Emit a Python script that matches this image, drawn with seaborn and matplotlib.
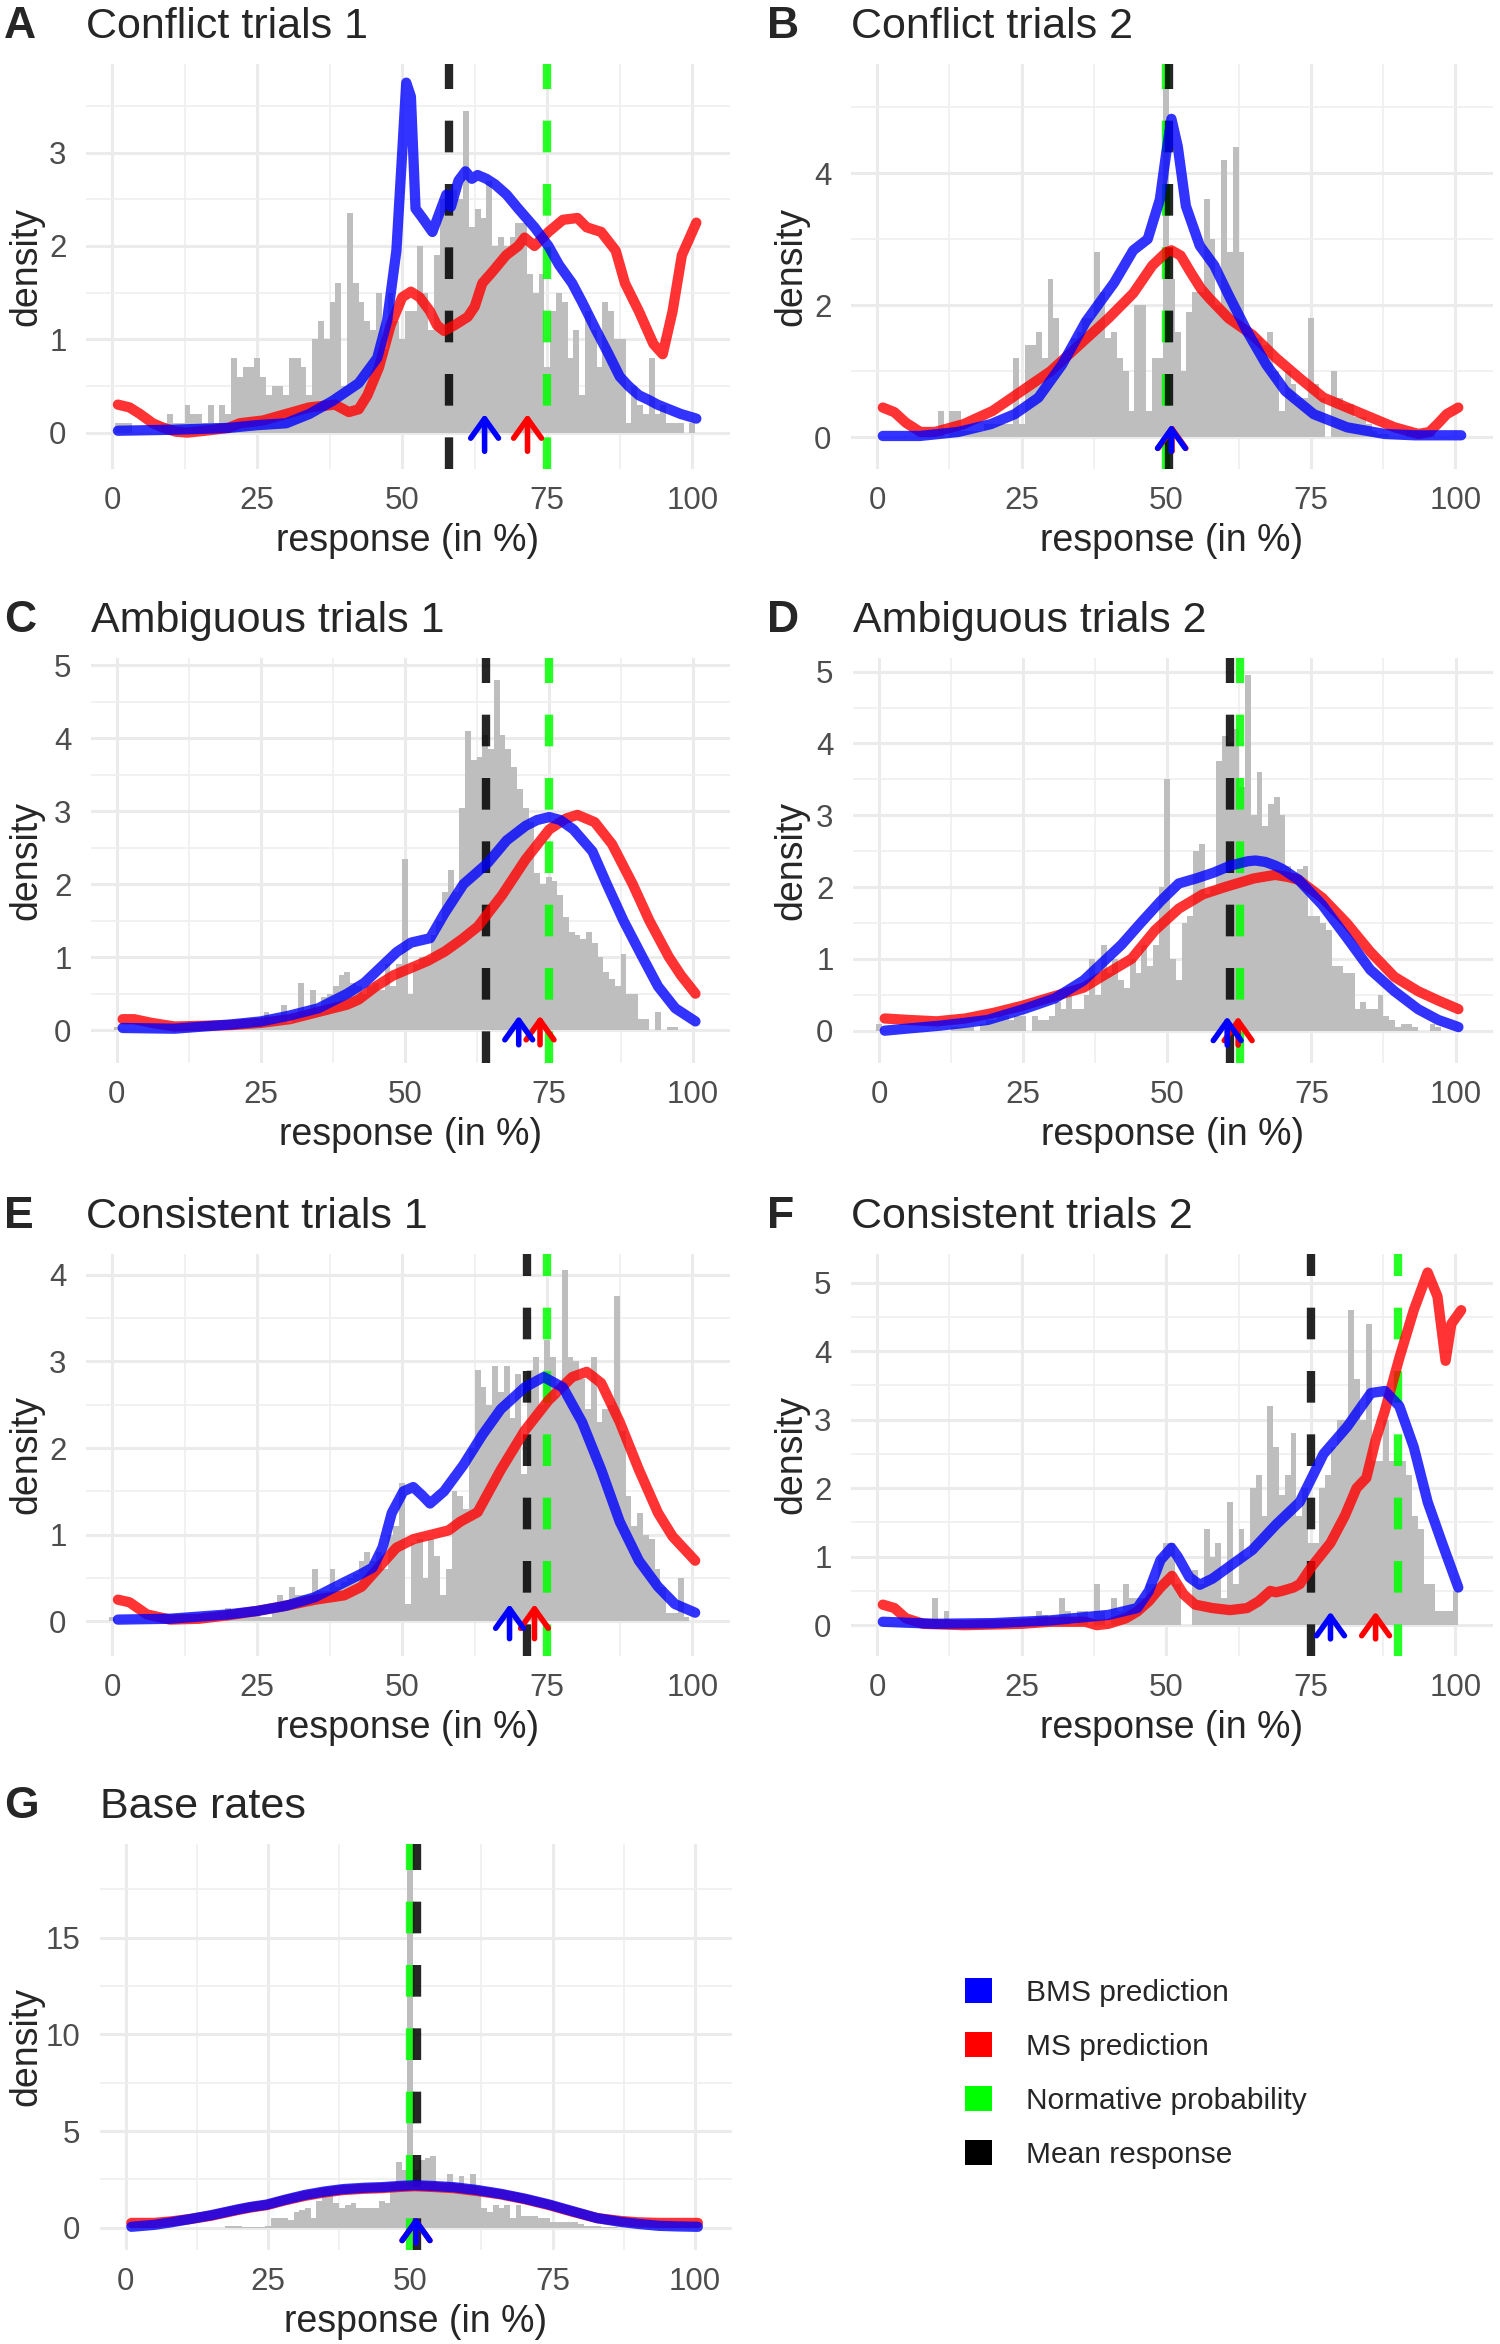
import numpy as np
import matplotlib
matplotlib.use("Agg")
import matplotlib.pyplot as plt
import seaborn as sns
from matplotlib.patches import Patch
from matplotlib.ticker import MultipleLocator

sns.set_theme(style="white")
plt.rcParams['font.family'] = ['Liberation Sans', 'DejaVu Sans']

# ---------------- data ----------------
bin_centers = list(range(0, 101))

hist_A = [0,
    0.1, 0.1, 0.1, 0, 0, 0, 0, 0, 0.1, 0.2,
    0.1, 0.1, 0.3, 0.2, 0.2, 0.1, 0.3, 0.1, 0.3, 0.2,
    0.8, 0.6, 0.7, 0.7, 0.8, 0.6, 0.4, 0.5, 0.5, 0.4,
    0.8, 0.8, 0.7, 0.4, 1.0, 1.2, 1.0, 1.4, 1.6, 0.5,
    2.35, 1.6, 1.4, 1.2, 1.1, 1.5, 0.9, 1.5, 1.2, 1.0,
    1.3, 1.3, 2.0, 1.5, 1.1, 1.9, 2.5, 2.4, 2.6, 2.5,
    3.45, 2.2, 2.4, 2.3, 2.7, 2.0, 2.1, 2.0, 2.1, 2.25,
    2.25, 1.7, 1.5, 1.7, 0.7, 1.3, 1.5, 1.4, 0.8, 1.1,
    0.4, 1.3, 1.1, 0.7, 1.4, 1.3, 1.0, 1.0, 0.1, 0.5,
    0.3, 0.2, 0.8, 0.2, 0.3, 0.1, 0.1, 0.1, 0, 0.1]
hist_B = [0,
    0, 0, 0, 0, 0, 0, 0, 0, 0, 0,
    0.4, 0, 0.4, 0.4, 0.1, 0.1, 0.1, 0.1, 0.2, 0.2,
    0.2, 0.2, 0.2, 1.2, 0.2, 1.4, 1.4, 1.6, 1.2, 2.4,
    1.8, 1.2, 1.3, 1.5, 1.6, 1.8, 1.8, 2.8, 2.2, 1.5,
    1.6, 1.2, 1.0, 0.4, 2.0, 2.0, 0.4, 1.2, 1.2, 5.3,
    2.4, 1.6, 1.0, 1.9, 2.2, 2.2, 3.6, 3.0, 2.0, 4.2,
    2.8, 4.4, 2.8, 1.6, 1.5, 1.5, 1.4, 1.6, 1.0, 0.4,
    1.0, 0.8, 0.6, 0.6, 1.8, 0.8, 0.6, 0.0, 1.0, 0.6,
    0.5, 0.5, 0.3, 0.3, 0.2, 0.1, 0.05, 0.05, 0, 0,
    0, 0.1, 0.1, 0.1, 0.1, 0.1, 0, 0, 0, 0]
hist_C = [0.05,
    0, 0, 0, 0, 0, 0, 0, 0, 0, 0,
    0, 0, 0, 0, 0, 0, 0, 0, 0, 0.05,
    0.05, 0.05, 0.05, 0.1, 0.1, 0.25, 0.1, 0.1, 0.35, 0.1,
    0.2, 0.65, 0.25, 0.55, 0.25, 0.45, 0.5, 0.6, 0.75, 0.8,
    0.65, 0.6, 0.5, 0.6, 0.65, 0.55, 0.9, 0.6, 0.9, 2.35,
    0.5, 0.9, 1.0, 1.0, 1.3, 1.5, 1.9, 2.2, 1.9, 3.05,
    4.1, 3.7, 3.75, 4.05, 3.85, 4.8, 4.05, 3.85, 3.6, 3.3,
    3.05, 2.85, 2.15, 2.0, 2.1, 2.05, 1.85, 1.55, 1.35, 1.3,
    1.25, 1.35, 1.2, 1.0, 0.8, 0.7, 0.6, 1.05, 0.5, 0.5,
    0.15, 0.15, 0, 0.25, 0, 0.05, 0.05, 0, 0, 0]
hist_D = [0.1,
    0, 0, 0, 0, 0, 0, 0, 0, 0, 0,
    0, 0, 0.05, 0.05, 0.05, 0.05, 0, 0.1, 0.15, 0.15,
    0.2, 0.2, 0.15, 0.2, 0.2, 0, 0.2, 0.15, 0.15, 0.2,
    0.4, 0.3, 0.5, 0.3, 0.3, 0.5, 1.0, 0.5, 1.2, 0.8,
    1.0, 0.7, 0.6, 1.0, 0.8, 1.2, 0.9, 1.2, 2.0, 3.5,
    1.0, 0.7, 1.5, 1.6, 2.5, 2.6, 1.9, 2.0, 3.75, 4.1,
    4.0, 4.2, 3.4, 4.95, 3.0, 3.6, 2.85, 3.15, 3.25, 3.0,
    2.3, 2.2, 2.25, 2.3, 1.6, 1.6, 1.5, 1.4, 0.9, 0.9,
    0.8, 0.8, 0.3, 0.4, 0.3, 0.3, 0.5, 0.2, 0.15, 0.05,
    0.1, 0.1, 0.05, 0, 0, 0.1, 0.05, 0, 0, 0]
hist_E = [0.05,
    0, 0, 0, 0, 0, 0, 0, 0, 0, 0,
    0, 0, 0, 0, 0, 0, 0, 0, 0, 0.15,
    0.1, 0.05, 0.05, 0.1, 0.1, 0.05, 0.05, 0.1, 0.3, 0.25,
    0.4, 0.3, 0.3, 0.3, 0.6, 0.35, 0.35, 0.6, 0.4, 0.45,
    0.5, 0.55, 0.7, 0.8, 0.7, 0.8, 0.6, 1.0, 1.1, 1.6,
    0.2, 0.9, 0.95, 0.5, 0.95, 0.75, 0.3, 0.6, 1.5, 1.45,
    1.3, 2.0, 2.9, 2.7, 2.5, 2.95, 2.65, 2.95, 2.35, 2.85,
    1.7, 2.9, 3.05, 2.5, 3.25, 3.05, 2.6, 4.05, 3.05, 3.0,
    2.8, 2.45, 3.05, 2.3, 2.45, 2.5, 3.75, 2.2, 1.45, 1.1,
    1.25, 1.0, 0.95, 0.6, 0.4, 0.1, 0.1, 0.5, 0.05, 0]
hist_F = [0,
    0, 0, 0, 0, 0, 0, 0, 0, 0, 0.4,
    0, 0.2, 0, 0, 0, 0, 0, 0, 0, 0,
    0, 0, 0, 0, 0, 0, 0, 0.2, 0.15, 0,
    0, 0.4, 0.2, 0, 0.2, 0.2, 0, 0.6, 0.2, 0,
    0.4, 0.2, 0.6, 0.4, 0.4, 0.4, 0.6, 0.6, 1.0, 1.2,
    1.2, 0.6, 0, 0, 0.8, 0.6, 1.4, 1.0, 1.2, 0.4,
    1.8, 0.6, 1.4, 1.0, 2.0, 2.2, 1.6, 3.2, 2.6, 1.9,
    2.2, 2.8, 1.6, 2.0, 1.2, 1.2, 2.0, 2.2, 2.6, 3.0,
    3.0, 4.6, 3.6, 3.0, 4.4, 2.4, 2.4, 3.0, 2.4, 2.4,
    2.4, 2.2, 1.6, 1.4, 0.6, 0.6, 0.2, 0.2, 0.2, 0.5]
hist_G = [0,
    0, 0, 0, 0, 0, 0, 0, 0, 0, 0,
    0, 0, 0, 0, 0, 0, 0, 0.1, 0.1, 0.1,
    0.05, 0.05, 0.05, 0.05, 0.1, 0.5, 0.5, 0.5, 0.4, 0.8,
    0.9, 1.0, 0.5, 1.4, 2.0, 1.8, 1.3, 1.0, 1.2, 1.3,
    1.0, 1.0, 1.0, 1.0, 1.4, 1.3, 2.3, 3.4, 3.0, 19.8,
    3.0, 3.5, 3.6, 3.7, 2.1, 2.3, 2.8, 2.2, 2.7, 2.0,
    2.8, 1.9, 1.0, 0.8, 1.2, 1.0, 1.2, 0.5, 1.2, 0.6,
    0.6, 0.6, 0.5, 0.5, 0.3, 0.3, 0.3, 0.3, 0.3, 0.2,
    0.1, 0.1, 0.1, 0.05, 0.05, 0.05, 0, 0, 0, 0,
    0, 0, 0, 0, 0, 0, 0, 0, 0, 0]

# BMS (blue) and MS (red) prediction densities
bms_x_A = [1, 10, 20, 25, 30, 34, 38, 42.5, 45.7, 47.4, 49, 50, 50.7, 51.5, 52.3, 53.5, 55.2, 56.4, 57.6, 58.4,
           59.7, 60.9, 62, 63, 64.5, 66, 68, 70, 72.8, 75.2, 77, 79.3, 81, 83.4, 85.5, 87.5, 89, 90.8, 92.5, 94,
           96, 98, 100.7]
bms_y_A = [0.02, 0.03, 0.05, 0.08, 0.1, 0.2, 0.34, 0.53, 0.8, 1.2, 1.95, 3.0, 3.75, 3.6, 2.4, 2.3, 2.15, 2.35, 2.55, 2.42,
           2.7, 2.8, 2.72, 2.76, 2.72, 2.66, 2.55, 2.4, 2.2, 2.0, 1.8, 1.6, 1.4, 1.1, 0.85, 0.6, 0.5, 0.4, 0.35, 0.3,
           0.25, 0.2, 0.15]
ms_x_A = [1, 3, 4.8, 7, 8.9, 11, 13, 16, 20, 22, 26, 30, 34, 38.4, 40.8, 42.5, 44, 46, 48, 50, 51.5, 53, 54.8, 56,
          57.2, 59, 61.3, 62.5, 63.8, 65.5, 67.9, 70, 71.1, 72.8, 75.2, 77.7, 80.2, 81.8, 84.3, 86.8, 88.4, 90.8,
          93.3, 94.9, 96.6, 98.2, 100.7]
ms_y_A = [0.3, 0.27, 0.2, 0.1, 0.05, 0.01, 0.0, 0.02, 0.05, 0.1, 0.13, 0.2, 0.27, 0.3, 0.22, 0.25, 0.4, 0.7, 1.15,
          1.45, 1.51, 1.45, 1.3, 1.15, 1.09, 1.15, 1.24, 1.35, 1.6, 1.72, 1.9, 2.0, 2.09, 2.0, 2.15, 2.28, 2.3, 2.2,
          2.15, 1.95, 1.6, 1.3, 0.95, 0.84, 1.3, 1.9, 2.25]

bms_x_B = [1, 7.4, 14, 19.7, 23.8, 27.9, 32, 36.1, 41, 44.3, 46.8, 48.9, 50, 50.9, 52, 53.4, 55.8, 58.3, 60.8, 64,
           67.3, 70.6, 75.5, 81.3, 87.8, 93, 101]
bms_y_B = [0.02, 0.02, 0.08, 0.2, 0.35, 0.6, 1.1, 1.75, 2.34, 2.83, 3.0, 3.6, 4.3, 4.82, 4.4, 3.5, 2.9, 2.6, 2.15,
           1.6, 1.1, 0.7, 0.35, 0.15, 0.05, 0.03, 0.03]
ms_x_B = [1, 3, 5, 7.5, 10, 15, 20, 25, 30, 35, 40, 44.3, 47.6, 50, 50.9, 52.5, 54.2, 56, 57.5, 60.8, 64.9, 69, 73,
          77.2, 81.3, 85.4, 89.5, 93.6, 95.5, 96.9, 98.5, 100.5]
ms_y_B = [0.45, 0.38, 0.22, 0.08, 0.08, 0.2, 0.4, 0.7, 1.0, 1.4, 1.8, 2.18, 2.6, 2.8, 2.83, 2.75, 2.5, 2.25, 2.1,
          1.8, 1.55, 1.2, 0.9, 0.6, 0.45, 0.3, 0.15, 0.05, 0.08, 0.2, 0.35, 0.45]

bms_x_C = [1, 10, 20, 25, 30, 35, 40, 43, 45, 47, 48.6, 51.1, 54.4, 56.9, 60.2, 64.4, 67.7, 71, 73, 75.1, 77, 79.3,
           82.6, 85.1, 88, 91.3, 94, 97, 100.5]
bms_y_C = [0.03, 0.02, 0.08, 0.12, 0.2, 0.3, 0.5, 0.65, 0.8, 0.95, 1.07, 1.2, 1.26, 1.6, 2.0, 2.29, 2.6, 2.8, 2.88,
           2.92, 2.88, 2.75, 2.45, 2.0, 1.5, 1.0, 0.6, 0.3, 0.12]
ms_x_C = [1, 3, 6, 10, 20, 25, 30, 35, 40, 42, 45, 48, 51, 54, 57, 60, 62.7, 66.9, 71, 75.1, 78, 80, 83, 86, 89.6,
          92.5, 95.9, 98, 100.5]
ms_y_C = [0.15, 0.15, 0.1, 0.05, 0.07, 0.1, 0.15, 0.25, 0.35, 0.42, 0.6, 0.75, 0.85, 0.95, 1.08, 1.25, 1.42, 1.85,
          2.34, 2.75, 2.9, 2.95, 2.85, 2.55, 2.0, 1.5, 1.0, 0.75, 0.5]

bms_x_D = [1, 5, 10.6, 15, 18.9, 25.1, 30.5, 35.5, 38.8, 42.1, 45.4, 48.8, 52, 55, 58, 61, 64, 65.3, 67, 68.7, 70,
           72.8, 76.9, 81.1, 85.2, 89.4, 93.5, 97, 100.5]
bms_y_D = [0.0, 0.03, 0.07, 0.11, 0.15, 0.3, 0.45, 0.7, 0.95, 1.2, 1.5, 1.8, 2.05, 2.12, 2.2, 2.3, 2.36, 2.37, 2.35,
           2.3, 2.25, 2.1, 1.75, 1.3, 0.85, 0.55, 0.3, 0.15, 0.05]
ms_x_D = [1, 5, 10, 15, 20, 25, 30, 35.5, 39.6, 43.8, 47.9, 52, 56.2, 60, 65, 68.7, 71, 72.8, 76.9, 81.1, 85.2, 89.4,
          93.5, 97, 100.5]
ms_y_D = [0.17, 0.15, 0.13, 0.17, 0.25, 0.35, 0.47, 0.6, 0.8, 1.0, 1.4, 1.7, 1.9, 2.0, 2.12, 2.17, 2.14, 2.1, 1.85,
          1.5, 1.1, 0.75, 0.55, 0.42, 0.3]

bms_x_E = [1, 10, 20, 25, 30, 35, 40, 43, 44.9, 46.6, 48.2, 50.2, 51.9, 53.5, 54.8, 57.2, 60.5, 63.8, 67, 71.1, 74.4,
           77.7, 81, 84.3, 87.5, 90.8, 94.1, 97, 100.5]
bms_y_E = [0.02, 0.03, 0.08, 0.12, 0.18, 0.28, 0.45, 0.55, 0.62, 0.85, 1.25, 1.5, 1.55, 1.45, 1.36, 1.5, 1.8, 2.15,
           2.45, 2.7, 2.82, 2.7, 2.3, 1.75, 1.15, 0.7, 0.4, 0.2, 0.1]
ms_x_E = [1, 3, 6, 10, 15, 20, 25, 30, 35, 40, 43, 45, 47, 49, 52, 55, 58, 60, 63, 67, 71.1, 75.2, 79.3, 81.8, 84.3,
          87.5, 90.8, 94.1, 96.6, 100.5]
ms_y_E = [0.25, 0.22, 0.08, 0.02, 0.03, 0.07, 0.12, 0.18, 0.25, 0.3, 0.4, 0.55, 0.7, 0.85, 0.95, 1.0, 1.05, 1.15,
          1.26, 1.75, 2.2, 2.55, 2.82, 2.88, 2.75, 2.3, 1.75, 1.25, 0.98, 0.7]

bms_x_F = [1, 10, 20, 30, 40, 45, 47, 49, 50.9, 52, 54, 55.8, 58, 60.8, 64.9, 69, 73.1, 77.2, 81.3, 85.4, 87.8, 90.3,
           92.8, 95.2, 97.7, 100.5]
bms_y_F = [0.05, 0.02, 0.03, 0.07, 0.15, 0.25, 0.5, 0.95, 1.13, 1.0, 0.7, 0.59, 0.68, 0.85, 1.1, 1.47, 1.8, 2.5, 2.9,
           3.39, 3.42, 3.2, 2.6, 1.8, 1.2, 0.55]
ms_x_F = [1, 3, 5, 8, 15, 20, 25, 30, 33, 36, 38, 40, 43, 45, 47, 49, 51, 53, 55, 58, 61, 64, 66, 68, 69, 70, 72,
          73.1, 75.1, 78.4, 80.9, 82.9, 84.6, 86.2, 87.8, 90.3, 92.8, 95.2, 96.9, 98.3, 99.3, 101]
ms_y_F = [0.3, 0.25, 0.1, 0.02, 0.0, 0.01, 0.02, 0.05, 0.05, 0.05, 0.0, 0.02, 0.1, 0.2, 0.35, 0.55, 0.72, 0.45, 0.3,
          0.25, 0.22, 0.25, 0.35, 0.5, 0.48, 0.5, 0.55, 0.6, 0.85, 1.2, 1.6, 2.0, 2.15, 2.7, 3.13, 3.9, 4.6, 5.15,
          4.8, 3.86, 4.4, 4.6]

bms_x_G = [1, 5, 8, 11.3, 15, 19.7, 22, 24.8, 28, 31.5, 35, 38.2, 42, 45, 48, 50.8, 54, 57.6, 61.8, 66, 70.2, 74.4,
           78.6, 82.8, 87, 90, 93.7, 97, 100.5]
bms_y_G = [0.05, 0.15, 0.28, 0.45, 0.65, 0.95, 1.08, 1.2, 1.45, 1.7, 1.88, 2.0, 2.07, 2.1, 2.16, 2.2, 2.16, 2.1,
           1.95, 1.75, 1.5, 1.2, 0.85, 0.5, 0.3, 0.2, 0.1, 0.07, 0.05]
ms_x_G = [1, 5, 8, 11.3, 15, 19.7, 22, 24.8, 28, 31.5, 35, 38.2, 42, 45, 48, 50.8, 54, 57.6, 61.8, 66, 70.2, 74.4,
          78.6, 82.8, 87, 90, 93.7, 97, 100.5]
ms_y_G = [0.25, 0.25, 0.33, 0.45, 0.62, 0.92, 1.05, 1.17, 1.42, 1.65, 1.83, 1.95, 2.02, 2.05, 2.11, 2.15, 2.11,
          2.05, 1.9, 1.72, 1.47, 1.17, 0.82, 0.5, 0.35, 0.28, 0.25, 0.25, 0.25]

tags = ['A', 'B', 'C', 'D', 'E', 'F', 'G']
titles = ['Conflict trials 1', 'Conflict trials 2', 'Ambiguous trials 1', 'Ambiguous trials 2',
          'Consistent trials 1', 'Consistent trials 2', 'Base rates']
mean_response = [58.0, 50.4, 64.2, 60.8, 71.5, 75.0, 51.1]
normative_prob = [75.0, 50.0, 75.0, 62.6, 75.0, 90.0, 49.9]
bms_prediction = [64.2, 50.9, 69.8, 60.4, 68.5, 78.4, 51.0]
ms_prediction = [71.6, 51.0, 73.5, 62.3, 72.8, 86.2, 51.0]
legend_labels = ['BMS prediction', 'MS prediction', 'Normative probability', 'Mean response']

hists = [hist_A, hist_B, hist_C, hist_D, hist_E, hist_F, hist_G]
bms_curves = [(bms_x_A, bms_y_A), (bms_x_B, bms_y_B), (bms_x_C, bms_y_C), (bms_x_D, bms_y_D),
              (bms_x_E, bms_y_E), (bms_x_F, bms_y_F), (bms_x_G, bms_y_G)]
ms_curves = [(ms_x_A, ms_y_A), (ms_x_B, ms_y_B), (ms_x_C, ms_y_C), (ms_x_D, ms_y_D),
             (ms_x_E, ms_y_E), (ms_x_F, ms_y_F), (ms_x_G, ms_y_G)]

# ---------------- layout / style ----------------
W, H = 1500, 2344
# panel boxes in pixels: left, right, top, bottom
boxes = [(86, 730, 64, 469), (851, 1493, 64, 469),
         (91, 730, 658, 1063), (853, 1493, 658, 1063),
         (86, 730, 1254, 1656), (851, 1493, 1254, 1656),
         (100, 732, 1844, 2250)]
ylims = [(-0.39, 3.95), (-0.48, 5.65), (-0.45, 5.1), (-0.45, 5.19), (-0.4, 4.24), (-0.45, 5.42), (-1.15, 19.85)]
ysteps = [1, 2, 1, 1, 1, 1, 5]
tag_x = [4, 767, 4, 767, 4, 767, 4]
ylabel_right = [44, 809, 44, 809, 44, 809, 44]   # pixel x of the right side of the rotated y label

BLUE, RED, GREEN, BLACK, GREY = '#0000FF', '#FF0000', '#00FF00', '#000000', '#BEBEBE'
LW = 7.4
VLW = 6.0

fig = plt.figure(figsize=(W / 100, H / 100), dpi=100)
fig.patch.set_facecolor('white')

for i in range(7):
    L, R, T, B = boxes[i]
    ax = fig.add_axes([L / W, 1 - B / H, (R - L) / W, (B - T) / H])
    ax.set_facecolor('white')
    sns.histplot(x=bin_centers, weights=hists[i], binwidth=1, binrange=(-0.5, 100.5), color=GREY, alpha=1.0,
                 linewidth=0, edgecolor=GREY, ax=ax)
    ax.axvline(normative_prob[i], color=GREEN, lw=VLW, alpha=0.85, dashes=(3.8, 3.8), zorder=3)
    ax.axvline(mean_response[i], color=BLACK, lw=VLW, alpha=0.85, dashes=(3.8, 3.8), zorder=3)
    n_before = len(ax.lines)
    sns.lineplot(x=ms_curves[i][0], y=ms_curves[i][1], color=RED, linewidth=LW, alpha=0.8,
                 sort=False, estimator=None, ax=ax, zorder=4)
    sns.lineplot(x=bms_curves[i][0], y=bms_curves[i][1], color=BLUE, linewidth=LW, alpha=0.8,
                 sort=False, estimator=None, ax=ax, zorder=5)
    for line in ax.lines[n_before:]:
        line.set_linewidth(LW)
        line.set_solid_capstyle('round')
        line.set_solid_joinstyle('round')
    ymax = max(hists[i])
    tip = max(0.2, 0.03 * ymax)
    tail = -max(0.2, 0.04 * ymax)
    for xp, c in ((ms_prediction[i], RED), (bms_prediction[i], BLUE)):
        ax.annotate('', xy=(xp, tip), xytext=(xp, tail),
                    arrowprops=dict(arrowstyle='->,head_length=0.7,head_width=0.5', color=c, lw=4.0,
                                    shrinkA=0, shrinkB=0, mutation_scale=20), zorder=6)
    ax.set_xlim(-4.5, 106.5)
    ax.set_ylim(*ylims[i])
    ax.set_xticks([0, 25, 50, 75, 100])
    ax.xaxis.set_minor_locator(MultipleLocator(12.5))
    ax.yaxis.set_major_locator(MultipleLocator(ysteps[i]))
    ax.yaxis.set_minor_locator(MultipleLocator(ysteps[i] / 2))
    ax.grid(True, which='major', color='#EBEBEB', linewidth=2.2)
    ax.grid(True, which='minor', color='#EFEFEF', linewidth=1.2)
    ax.set_axisbelow(True)
    for s in ax.spines.values():
        s.set_visible(False)
    ax.tick_params(axis='both', which='both', length=0, labelsize=22.5, labelcolor='#4D4D4D')
    ax.tick_params(axis='x', pad=12)
    ax.tick_params(axis='y', pad=14)
    ax.set_xlabel('response (in %)', fontsize=27, labelpad=5)
    ax.set_ylabel('density', fontsize=27)
    ax.yaxis.set_label_coords((ylabel_right[i] - L) / (R - L), 0.5)
    ax.set_title(titles[i], loc='left', fontsize=31, pad=19)
    fig.text(tag_x[i] / W, 1 - (T - 26) / H, tags[i], fontsize=32, fontweight='bold',
             ha='left', va='baseline')

handles = [Patch(facecolor=c, edgecolor='none') for c in (BLUE, RED, GREEN, BLACK)]
fig.legend(handles, legend_labels, loc='center left', bbox_to_anchor=(965 / W, 1 - 2073.5 / H),
           frameon=False, fontsize=21.5, handlelength=0.9, handleheight=0.9, handletextpad=1.15,
           labelspacing=0.85, borderaxespad=0, borderpad=0)

fig.savefig('out.png', dpi=100, facecolor='white')
